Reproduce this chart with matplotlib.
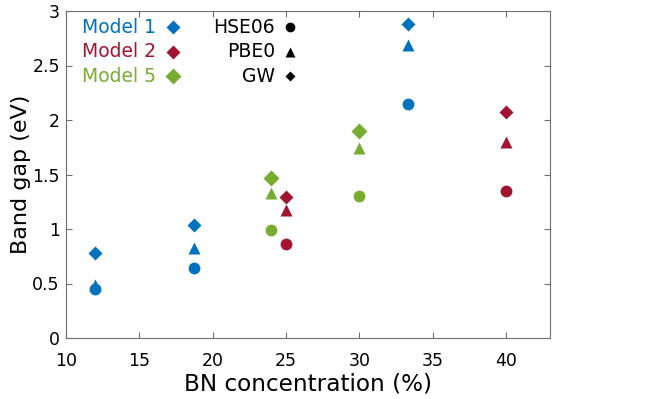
import matplotlib
matplotlib.use("Agg")
import matplotlib.pyplot as plt

# BN concentration (%) and band gaps (eV) per model / method
m1_x = [12.0, 18.75, 33.3]
m1_hse = [0.45, 0.64, 2.15]
m1_pbe = [0.49, 0.83, 2.69]
m1_gw = [0.78, 1.04, 2.88]

m2_x = [25.0, 40.0]
m2_hse = [0.86, 1.35]
m2_pbe = [1.17, 1.80]
m2_gw = [1.29, 2.07]

m5_x = [24.0, 30.0]
m5_hse = [0.99, 1.30]
m5_pbe = [1.33, 1.74]
m5_gw = [1.47, 1.90]

blue, red, green = "#0072BD", "#A2142F", "#77AC30"
axc = "#707070"

fig = plt.figure(figsize=(6.64, 3.99), dpi=100)
ax = fig.add_axes([66 / 664, 61 / 399, 484 / 664, 327 / 399])

models = [
    (m1_x, m1_hse, m1_pbe, m1_gw, blue, 9),
    (m2_x, m2_hse, m2_pbe, m2_gw, red, 9),
    (m5_x, m5_hse, m5_pbe, m5_gw, green, 10.5),
]
for x, hse, pbe, gw, c, dsz in models:
    ax.plot(x, hse, "o", color=c, ms=8.5, mec="none")
    ax.plot(x, pbe, "^", color=c, ms=8.5, mec="none")
    ax.plot(x, gw, "D", color=c, ms=dsz * 0.75, mec="none")

ax.set_xlim(10, 43)
ax.set_ylim(0, 3)
ax.set_xticks([10, 15, 20, 25, 30, 35, 40])
ax.set_yticks([0, 0.5, 1, 1.5, 2, 2.5, 3])
ax.set_yticklabels(["0", "0.5", "1", "1.5", "2", "2.5", "3"])
ax.tick_params(direction="in", top=True, right=True, length=4, color=axc,
               labelsize=12.5, labelcolor="black")
ax.tick_params(axis="x", pad=10)
ax.tick_params(axis="y", pad=4.5)
for s in ax.spines.values():
    s.set_color(axc)
ax.set_xlabel("BN concentration (%)", fontsize=16.7, labelpad=2)
ax.set_ylabel("Band gap (eV)", fontsize=16, labelpad=1)

# text legend
legend_models = [("Model 1", blue, 9), ("Model 2", red, 9), ("Model 5", green, 10.5)]
for i, (lab, c, dsz) in enumerate(legend_models):
    y = 0.95 - i * 0.075
    ax.text(0.033, y, lab, color=c, fontsize=13.5, va="center", ha="left",
            transform=ax.transAxes)
    ax.plot([0.222], [y], "D", color=c, ms=dsz * 0.75, mec="none",
            transform=ax.transAxes, clip_on=False)

legend_methods = [("HSE06", "o", 7), ("PBE0", "^", 7), ("GW", "D", 5.5)]
for i, (lab, mk, sz) in enumerate(legend_methods):
    y = 0.95 - i * 0.075
    ax.text(0.432, y, lab, color="black", fontsize=13.5, va="center", ha="right",
            transform=ax.transAxes)
    ax.plot([0.462], [y], mk, color="black", ms=sz, mec="none",
            transform=ax.transAxes, clip_on=False)

fig.savefig("out.png", dpi=100)
